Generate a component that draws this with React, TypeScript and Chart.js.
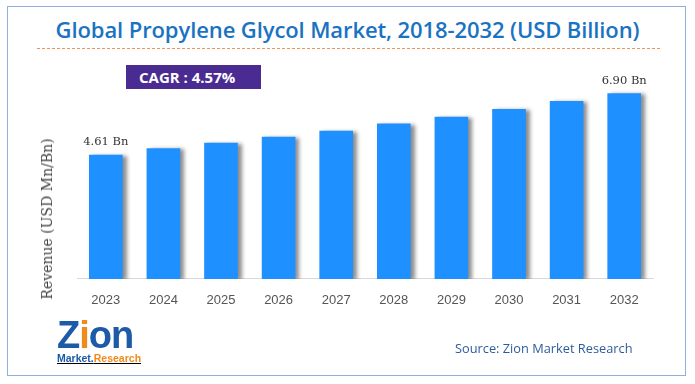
import React, { useEffect, useRef } from "react";
import { Chart, registerables } from "chart.js";

Chart.register(...registerables);

const years = ["2023", "2024", "2025", "2026", "2027", "2028", "2029", "2030", "2031", "2032"];
const revenue = [4.61, 4.85, 5.06, 5.28, 5.5, 5.77, 6.02, 6.31, 6.61, 6.9];
const valueLabels = ["4.61 Bn", "", "", "", "", "", "", "", "", "6.90 Bn"];

const shadowPlugin = {
  id: "barShadow",
  beforeDatasetsDraw(chart: any) {
    const ctx = chart.ctx;
    ctx.save();
    ctx.shadowColor = "rgba(0,0,0,0.45)";
    ctx.shadowOffsetX = 4;
    ctx.shadowOffsetY = 1;
    ctx.shadowBlur = 4;
  },
  afterDatasetsDraw(chart: any) {
    const ctx = chart.ctx;
    ctx.restore();
    const meta = chart.getDatasetMeta(0);
    ctx.save();
    ctx.font = "11.5px 'DejaVu Serif', serif";
    ctx.fillStyle = "#333";
    ctx.textAlign = "center";
    ctx.textBaseline = "middle";
    meta.data.forEach((bar: any, i: number) => {
      const t = valueLabels[i];
      if (t) ctx.fillText(t, bar.x, bar.y - 13);
    });
    ctx.restore();
  },
};

export default function App() {
  const ref = useRef<HTMLCanvasElement>(null);
  useEffect(() => {
    document.body.style.margin = "0";
    const chart = new Chart(ref.current!, {
      type: "bar",
      data: {
        labels: years,
        datasets: [
          {
            data: revenue,
            backgroundColor: "#1e90ff",
            barThickness: 33,
            borderWidth: 0,
          },
        ],
      },
      options: {
        animation: false,
        responsive: false,
        maintainAspectRatio: false,
        layout: { padding: { left: 77, right: 42, top: 64, bottom: 70.5 } },
        plugins: { legend: { display: false }, tooltip: { enabled: false } },
        scales: {
          x: {
            grid: { display: false },
            border: { display: true, color: "#d9d9d9", width: 1 },
            ticks: {
              color: "#555",
              font: { family: "'Liberation Sans', Arial, sans-serif", size: 13 },
              padding: 5.5,
            },
          },
          y: {
            display: false,
            min: 0,
            max: 8,
          },
        },
      },
      plugins: [shadowPlugin],
    });
    return () => chart.destroy();
  }, []);

  return (
    <div style={{ position: "fixed", left: 0, top: 0, width: 695, height: 384, background: "#fff", overflow: "hidden" }}>
      <div
        style={{
          position: "absolute",
          left: 7,
          top: 6,
          width: 679,
          height: 370,
          border: "1px solid #8fb0dc",
          boxSizing: "border-box",
        }}
      />
      <div
        style={{
          position: "absolute",
          left: 0,
          width: 695,
          top: 14,
          textAlign: "center",
          fontFamily: "'Open Sans', sans-serif",
          fontWeight: 600,
          fontSize: 22,
          color: "#1a73c2",
          lineHeight: "30px",
          letterSpacing: -0.1,
        }}
      >
        Global Propylene Glycol Market, 2018-2032 (USD Billion)
      </div>
      <div
        style={{
          position: "absolute",
          left: 37,
          top: 48,
          width: 623,
          borderTop: "1px dashed #f0935a",
        }}
      />
      <div
        style={{
          position: "absolute",
          left: 126,
          top: 65,
          width: 135,
          height: 24,
          background: "#4a2b91",
          color: "#fff",
          fontFamily: "'Open Sans', sans-serif",
          fontWeight: 700,
          fontSize: 15,
          lineHeight: "24px",
          paddingLeft: 13,
          boxSizing: "border-box",
          whiteSpace: "nowrap",
        }}
      >
        CAGR : 4.57%
      </div>
      <canvas ref={ref} width={695} height={384} style={{ position: "absolute", left: 0, top: 0 }} />
      <div
        style={{
          position: "absolute",
          left: 47,
          top: 219,
          transform: "translate(-50%, -50%) rotate(-90deg)",
          whiteSpace: "nowrap",
          fontFamily: "'DejaVu Serif', serif",
          fontSize: 14,
          lineHeight: "16px",
          color: "#444",
        }}
      >
        Revenue (USD Mn/Bn)
      </div>
      <div style={{ position: "absolute", left: 57, top: 318, fontFamily: "'Liberation Sans', Arial, sans-serif" }}>
        <div style={{ fontSize: 38, fontWeight: 700, color: "#1d5aa8", lineHeight: "34px", letterSpacing: -1 }}>
          Z<span style={{ color: "#f08a1c" }}>i</span>on
        </div>
        <div style={{ fontSize: 10.5, fontWeight: 700, lineHeight: "12px", textDecoration: "underline" }}>
          <span style={{ color: "#1d5aa8" }}>Market.</span>
          <span style={{ color: "#f08a1c" }}>Research</span>
        </div>
      </div>
      <div
        style={{
          position: "absolute",
          left: 455,
          top: 339,
          fontFamily: "'Open Sans', sans-serif",
          fontSize: 12.8,
          color: "#2d5c9c",
          whiteSpace: "nowrap",
        }}
      >
        Source: Zion Market Research
      </div>
    </div>
  );
}
